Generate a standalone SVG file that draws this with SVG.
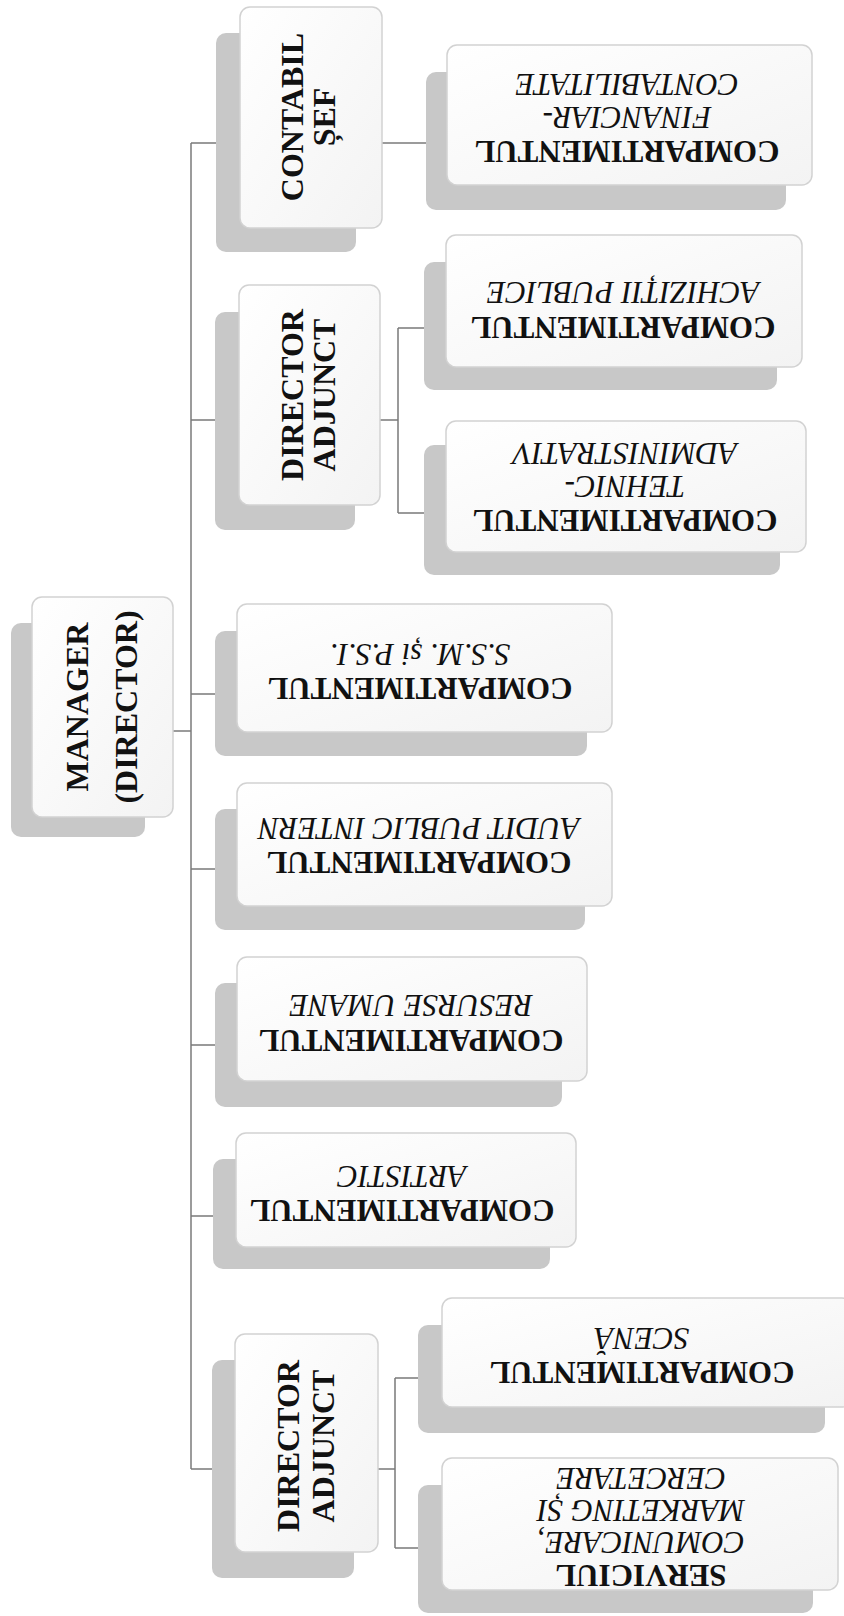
<svg xmlns="http://www.w3.org/2000/svg" width="844" height="1616" viewBox="0 0 844 1616">
<defs>
<linearGradient id="wg" x1="0" y1="0" x2="1" y2="1">
<stop offset="0" stop-color="#ffffff"/>
<stop offset="1" stop-color="#f3f3f3"/>
</linearGradient>
</defs>
<style>
.sh{fill:#c8c8c8;}
.bx{fill:url(#wg);stroke:#d2d2d2;stroke-width:1.5;}
.b{font-family:"Liberation Serif","Times New Roman",serif;font-weight:bold;fill:#111;text-anchor:middle;}
.i{font-family:"Liberation Serif","Times New Roman",serif;font-style:italic;fill:#111;text-anchor:middle;font-size:31px;}
.l{font-size:32px;}
.r{font-size:31px;}
.c{fill:none;stroke:#7a7a7a;stroke-width:1.5;}
</style>
<rect width="844" height="1616" fill="#ffffff"/>
<g id="connectors">
<path class="c" d="M191 143V1469"/>
<path class="c" d="M173 731H191"/>
<path class="c" d="M191 143H216M191 420H215M191 694H215M191 869H215M191 1045H215M191 1216H213M191 1469H212"/>
<path class="c" d="M382 143H426"/>
<path class="c" d="M380 420H398M398 328V513M398 328H424M398 513H424"/>
<path class="c" d="M378 1469H395M395 1378V1548M395 1378H418M395 1548H418"/>
</g>
<g id="manager">
<rect class="sh" x="11" y="623" width="134" height="214" rx="10"/>
<rect class="bx" x="32" y="597" width="141" height="220" rx="10"/>
<text class="b l" transform="translate(0,707) rotate(-90)"><tspan x="0" y="87.6">MANAGER</tspan><tspan x="0" y="136.6">(DIRECTOR)</tspan></text>
</g>
<g id="contabil-sef">
<rect class="sh" x="216" y="33" width="140" height="219" rx="10"/>
<rect class="bx" x="240" y="7" width="142" height="221" rx="10"/>
<text class="b l" transform="translate(0,117) rotate(-90)"><tspan x="0" y="302.6">CONTABIL</tspan><tspan x="0" y="334.6">ȘEF</tspan></text>
</g>
<g id="director-adjunct-1">
<rect class="sh" x="215" y="312" width="140" height="218" rx="10"/>
<rect class="bx" x="239" y="285" width="141" height="220" rx="10"/>
<text class="b l" transform="translate(0,395) rotate(-90)"><tspan x="0" y="302.6">DIRECTOR</tspan><tspan x="0" y="334.6">ADJUNCT</tspan></text>
</g>
<g id="comp-financiar">
<rect class="sh" x="426" y="72" width="360" height="138" rx="10"/>
<rect class="bx" x="447" y="45" width="365" height="140" rx="10"/>
<g transform="translate(627,0) rotate(180)">
<text class="b r" x="0" y="-140.8">COMPARTIMENTUL</text>
<text class="i" x="0" y="-106.8">FINANCIAR-</text>
<text class="i" x="0" y="-73.8">CONTABILITATE</text>
</g>
</g>
<g id="comp-achizitii">
<rect class="sh" x="424" y="262" width="353" height="128" rx="10"/>
<rect class="bx" x="446" y="235" width="356" height="132" rx="10"/>
<g transform="translate(623,0) rotate(180)">
<text class="b r" x="0" y="-316.8">COMPARTIMENTUL</text>
<text class="i" x="0" y="-281.8">ACHIZIȚII PUBLICE</text>
</g>
</g>
<g id="comp-tehnic">
<rect class="sh" x="424" y="445" width="356" height="130" rx="10"/>
<rect class="bx" x="446" y="421" width="360" height="131" rx="10"/>
<g transform="translate(625,0) rotate(180)">
<text class="b r" x="0" y="-509.8">COMPARTIMENTUL</text>
<text class="i" x="0" y="-475.8">TEHNIC-</text>
<text class="i" x="0" y="-442.8">ADMINISTRATIV</text>
</g>
</g>
<g id="comp-ssm">
<rect class="sh" x="215" y="631" width="372" height="125" rx="10"/>
<rect class="bx" x="237" y="604" width="375" height="128" rx="10"/>
<g transform="translate(420,0) rotate(180)">
<text class="b r" x="0" y="-677.8">COMPARTIMENTUL</text>
<text class="i" x="0" y="-643.8">S.S.M. și P.S.I.</text>
</g>
</g>
<g id="comp-audit">
<rect class="sh" x="215" y="809" width="370" height="121" rx="10"/>
<rect class="bx" x="237" y="783" width="375" height="123" rx="10"/>
<g transform="translate(419,0) rotate(180)">
<text class="b r" x="0" y="-851.8">COMPARTIMENTUL</text>
<text class="i" x="0" y="-817.8">AUDIT PUBLIC INTERN</text>
</g>
</g>
<g id="comp-resurse">
<rect class="sh" x="215" y="983" width="347" height="124" rx="10"/>
<rect class="bx" x="237" y="957" width="350" height="124" rx="10"/>
<g transform="translate(411,0) rotate(180)">
<text class="b r" x="0" y="-1029.8">COMPARTIMENTUL</text>
<text class="i" x="0" y="-994.8">RESURSE UMANE</text>
</g>
</g>
<g id="comp-artistic">
<rect class="sh" x="213" y="1159" width="337" height="110" rx="10"/>
<rect class="bx" x="236" y="1133" width="340" height="114" rx="10"/>
<g transform="translate(402,0) rotate(180)">
<text class="b r" x="0" y="-1199.8">COMPARTIMENTUL</text>
<text class="i" x="0" y="-1165.8">ARTISTIC</text>
</g>
</g>
<g id="director-adjunct-2">
<rect class="sh" x="212" y="1360" width="142" height="218" rx="10"/>
<rect class="bx" x="235" y="1334" width="143" height="218" rx="10"/>
<text class="b l" transform="translate(0,1446) rotate(-90)"><tspan x="0" y="298.6">DIRECTOR</tspan><tspan x="0" y="333.6">ADJUNCT</tspan></text>
</g>
<g id="comp-scena">
<rect class="sh" x="418" y="1325" width="407" height="108" rx="10"/>
<rect class="bx" x="442" y="1298" width="410" height="109" rx="10"/>
<g transform="translate(642,0) rotate(180)">
<text class="b r" x="0" y="-1361.8">COMPARTIMENTUL</text>
<text class="i" x="0" y="-1327.8">SCENĂ</text>
</g>
</g>
<g id="serviciul-comunicare">
<rect class="sh" x="418" y="1485" width="395" height="128" rx="10"/>
<rect class="bx" x="442" y="1458" width="396" height="132" rx="10"/>
<g transform="translate(641,0) rotate(180)">
<text class="b r" x="0" y="-1564.8">SERVICIUL</text>
<text class="i" x="0" y="-1531.8">COMUNICARE,</text>
<text class="i" x="0" y="-1499.8">MARKETING ȘI</text>
<text class="i" x="0" y="-1467.8">CERCETARE</text>
</g>
</g>
</svg>
